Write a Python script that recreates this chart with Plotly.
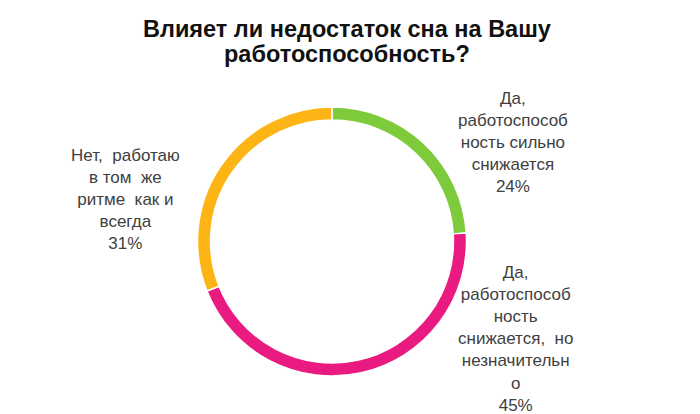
import plotly.graph_objects as go

title_lines = ["Влияет ли недостаток сна на Вашу", "работоспособность?"]
categories = [
    "Да,<br>работоспособ<br>ность сильно<br>снижается",
    "Да,<br>работоспособ<br>ность<br>снижается,\u00a0 но<br>незначительн<br>о",
    "Нет,\u00a0 работаю<br>в том\u00a0 же<br>ритме\u00a0 как и<br>всегда",
]
values = [24, 45, 31]
colors = ["#7dcb3a", "#ea1b80", "#fdb515"]

W, H = 700, 414
cx, cy, r = 332, 241.5, 134.5
label_px = [(513, 142.5), (515, 338.5), (125, 199)]
title_px = [(347, 29), (347, 54)]

fig = go.Figure(go.Pie(
    labels=[c.replace("<br>", " ") for c in categories],
    values=values,
    sort=False,
    direction="clockwise",
    rotation=0,
    hole=0.903,
    textinfo="none",
    hoverinfo="label+percent",
    marker=dict(colors=colors, line=dict(color="white", width=1.5)),
    domain=dict(x=[(cx - r) / W, (cx + r) / W],
                y=[(H - cy - r) / H, (H - cy + r) / H]),
    showlegend=False,
))

for cat, val, (px, py) in zip(categories, values, label_px):
    fig.add_annotation(
        x=px / W, y=(H - py) / H, xref="paper", yref="paper",
        text=f"{cat}<br>{val}%", showarrow=False, align="center",
        xanchor="center", yanchor="middle",
        font=dict(family="Liberation Sans, Arial, sans-serif", size=17, color="#404040"),
    )

for line, (px, py) in zip(title_lines, title_px):
    fig.add_annotation(
        x=px / W, y=(H - py) / H, xref="paper", yref="paper",
        text=f"<b>{line}</b>", showarrow=False,
        xanchor="center", yanchor="middle",
        font=dict(family="Liberation Sans, Arial, sans-serif", size=23.5, color="#111111"),
    )

fig.update_layout(
    width=W, height=H,
    margin=dict(l=0, r=0, t=0, b=0),
    paper_bgcolor="white", plot_bgcolor="white",
)

fig.write_html("out.html", config={"displayModeBar": False},
               post_script="document.body.style.margin='0';")
